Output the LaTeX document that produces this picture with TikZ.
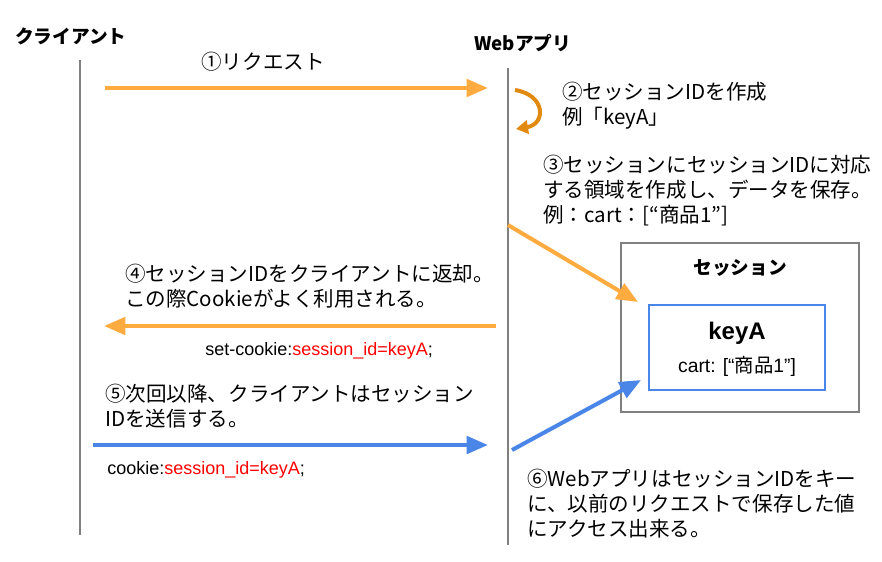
\documentclass[tikz,border=0pt]{standalone}
\usepackage{fontspec}
\setmainfont{Noto Sans CJK JP}
\newfontfamily\arialfont{Liberation Sans}
\usetikzlibrary{arrows.meta}
\definecolor{gorange}{HTML}{FFAB40}
\definecolor{dorange}{HTML}{E08A10}
\definecolor{gblue}{HTML}{4A86E8}
\definecolor{ggray}{HTML}{808080}
\definecolor{gred}{HTML}{FF0000}
\begin{document}
\begin{tikzpicture}[x=0.75pt,y=-0.75pt,
  lifeline/.style={draw=ggray,line width=2pt},
  oarrow/.style={draw=gorange,line width=3pt,-{Triangle[length=16pt,width=13pt]}},
  barrow/.style={draw=gblue,line width=3pt,-{Triangle[length=16pt,width=13pt]}},
  title/.style={font=\fontsize{14pt}{16pt}\selectfont\bfseries,inner sep=0pt},
  jtext/.style={font=\fontsize{15.4pt}{18.75pt}\selectfont,align=left,inner sep=0pt,anchor=north west},
  code/.style={font=\arialfont\fontsize{13.5pt}{16pt}\selectfont,inner sep=0pt,anchor=west}]
\useasboundingbox (0,0) rectangle (882,561);
% titles
\node[title,anchor=west] (client) at (15,36) {クライアント};
\node[title,anchor=west] (web) at (474,43) {Webアプリ};
% lifelines
\coordinate (c1) at (80,60); \coordinate (c2) at (80,535);
\coordinate (w1) at (508,68); \coordinate (w2) at (508,545);
\draw[lifeline] (c1) -- (c2);
\draw[lifeline] (w1) -- (w2);
% 1
\coordinate (a1s) at (105,88); \coordinate (a1e) at (488,88);
\draw[oarrow] (a1s) -- (a1e);
\node[font=\fontsize{15.4pt}{18pt}\selectfont,inner sep=0pt] (t1) at (263,62) {①リクエスト};
% 2
\coordinate (a2s) at (515,90); \coordinate (a2e) at (516,129);
\draw[draw=dorange,line width=3pt,-{Triangle[length=9pt,width=10pt]}] (a2s) .. controls (546,95) and (546,124) .. (a2e);
\node[jtext] (t2) at (562,82) {②セッションIDを作成\\例「keyA」};
% 3
\node[jtext] (t3) at (543,155) {③セッションにセッションIDに対応\\する領域を作成し、データを保存。\\例：cart：[“商品1”]};
% session box
\node[draw=ggray,line width=1pt,minimum width=178.5pt,minimum height=126.75pt,inner sep=0pt] (sess) at (740,327.5) {};
\node[title] (sesst) at (740,268) {セッション};
\node[draw=gblue,line width=1pt,minimum width=132pt,minimum height=63.75pt,inner sep=0pt] (keybox) at (737,347.5) {};
\node[font=\arialfont\fontsize{18pt}{20pt}\selectfont\bfseries,inner sep=0pt] (key) at (737,333) {keyA};
\node[inner sep=0pt] (cart) at (737,366) {\arialfont\fontsize{14.5pt}{17pt}\selectfont cart: [“\normalfont\fontsize{14.5pt}{17pt}\selectfont 商品\arialfont 1”]};
\coordinate (a3s) at (508,225); \coordinate (a3e) at (638,302);
\draw[oarrow] (a3s) -- (a3e);
% 4
\node[jtext] (t4) at (125,264) {④セッションIDをクライアントに返却。\\この際Cookieがよく利用される。};
\coordinate (a4s) at (496,326); \coordinate (a4e) at (104,326);
\draw[oarrow] (a4s) -- (a4e);
\node[code] (c4) at (205,351) {set-cookie:\textcolor{gred}{session\_id=keyA};};
% 5
\node[jtext] (t5) at (105,384) {⑤次回以降、クライアントはセッション\\IDを送信する。};
\coordinate (a5s) at (93,445); \coordinate (a5e) at (488,445);
\draw[barrow] (a5s) -- (a5e);
\node[code] (c5) at (107,470) {cookie:\textcolor{gred}{session\_id=keyA};};
% 6
\coordinate (a6s) at (512,450); \coordinate (a6e) at (641,380);
\draw[barrow] (a6s) -- (a6e);
\node[jtext] (t6) at (527,469) {⑥WebアプリはセッションIDをキー\\に、以前のリクエストで保存した値\\にアクセス出来る。};
\end{tikzpicture}
\end{document}
